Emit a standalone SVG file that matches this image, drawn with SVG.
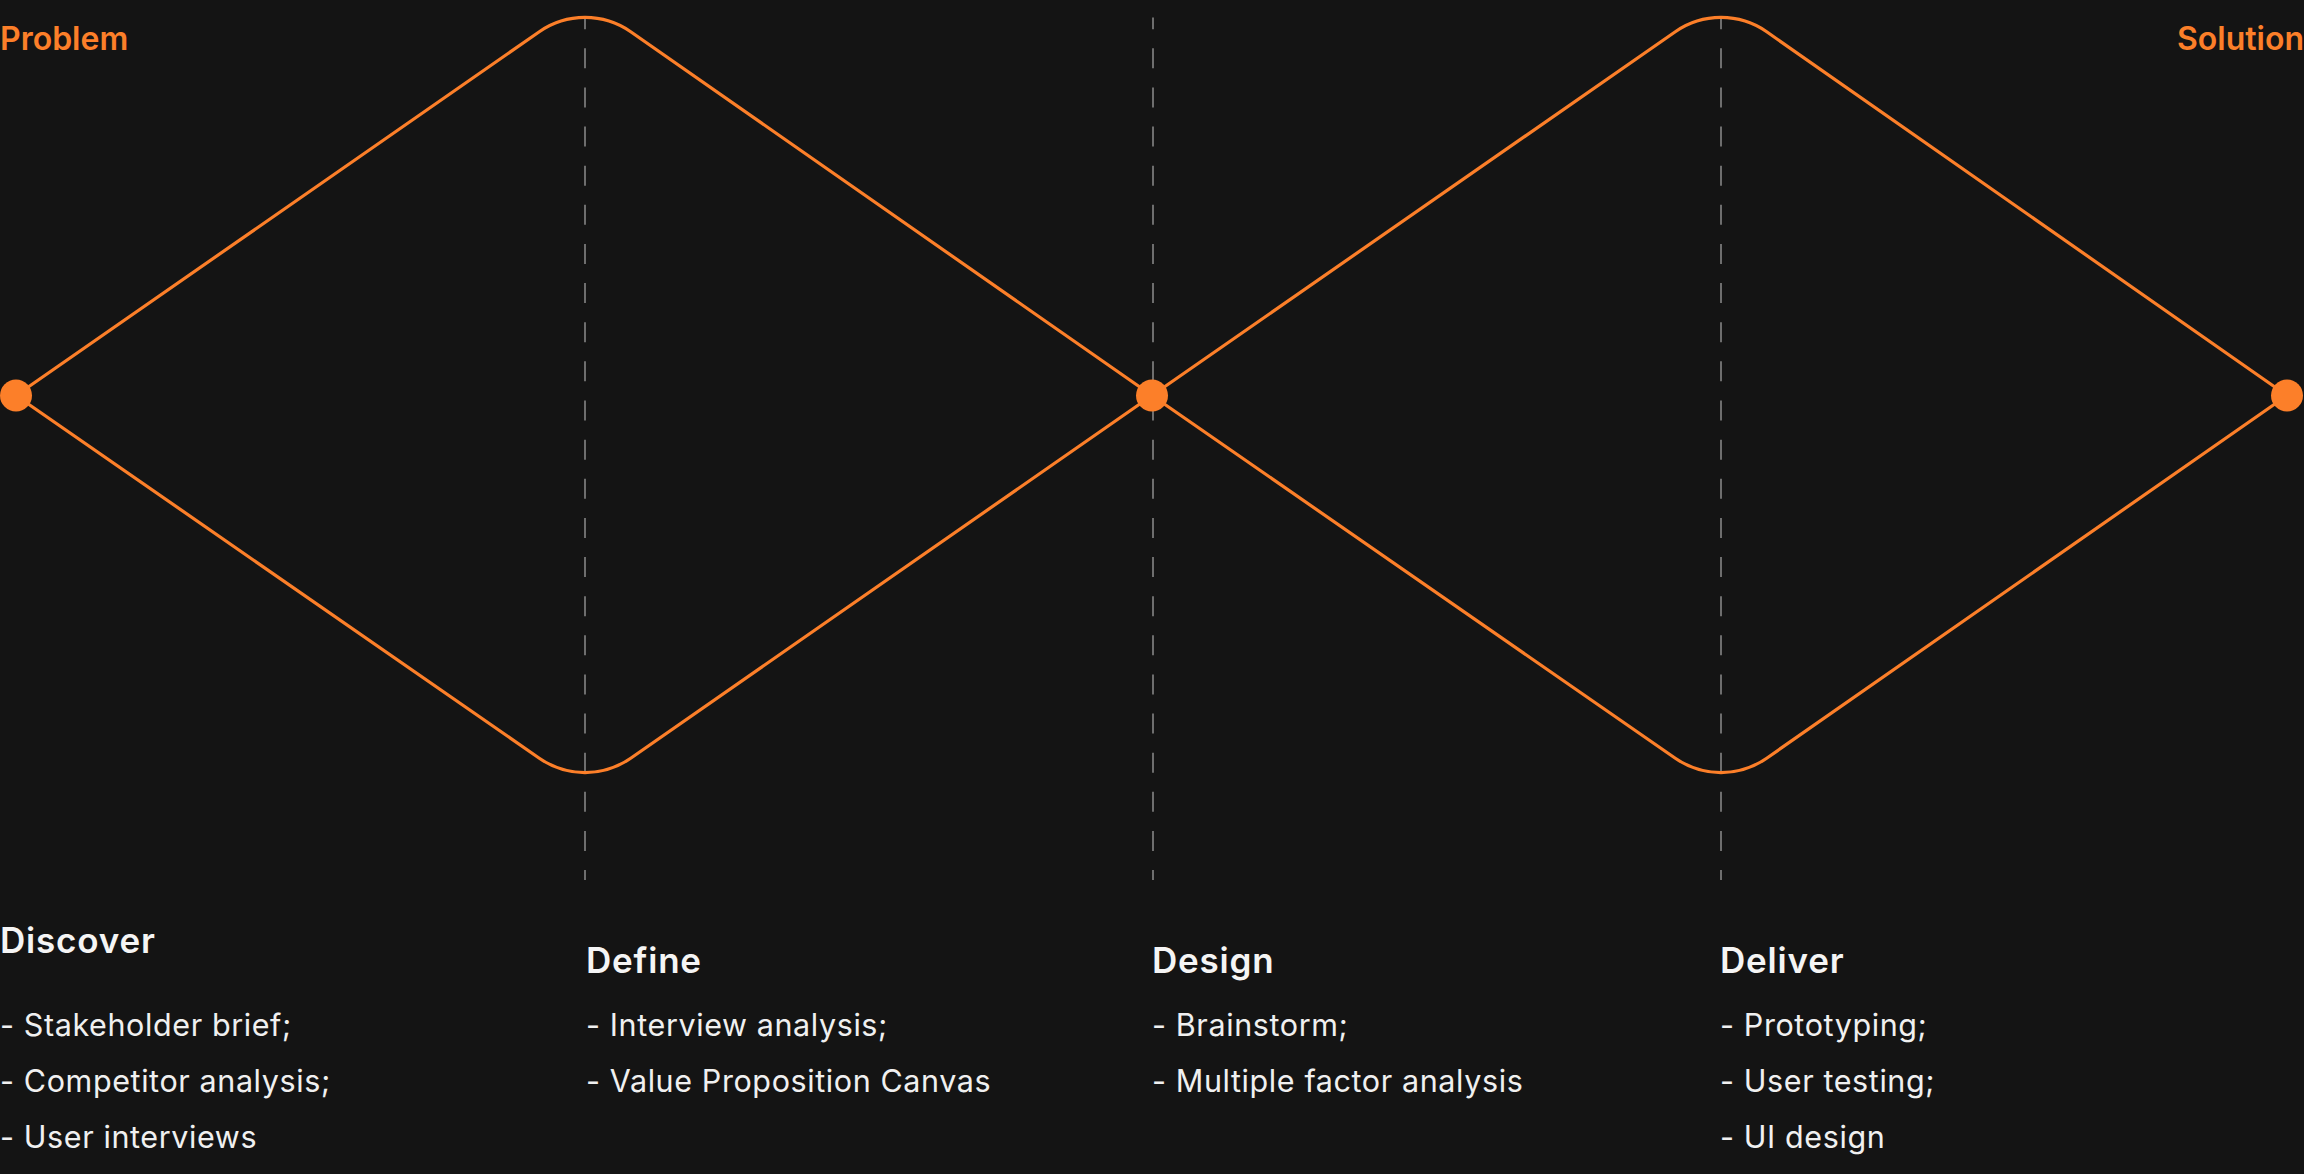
<svg xmlns="http://www.w3.org/2000/svg" width="2304" height="1174" viewBox="0 0 2304 1174">
  <style>
    .bg { fill: #141414; }
    .guide { stroke: #6e6e6e; stroke-width: 2; stroke-dasharray: 20 19.13; stroke-dashoffset: 8.3; fill: none; }
    .flow { stroke: #fc7f29; stroke-width: 3.2; fill: none; stroke-linejoin: round; }
    .dot { fill: #fc7f29; }
    .end { font-family: Inter, "Noto Sans", sans-serif; font-weight: 600; font-size: 32px; fill: #fc7f29; }
    .head { font-family: Inter, "Noto Sans", sans-serif; font-weight: 600; font-size: 35px; letter-spacing: 0.8px; fill: #f5f5f5; }
    .item { font-family: Inter, "Noto Sans", sans-serif; font-weight: 400; font-size: 30.5px; letter-spacing: 0.6px; fill: #f0f0f0; }
  </style>

  <rect class="bg" x="0" y="0" width="2304" height="1174"/>

  <!-- vertical dashed phase guides -->
  <g id="guides">
    <line class="guide" x1="585" y1="17.5" x2="585" y2="880"/>
    <line class="guide" x1="1153" y1="17.5" x2="1153" y2="880"/>
    <line class="guide" x1="1721" y1="17.5" x2="1721" y2="880"/>
  </g>

  <!-- diverge / converge curves of the double diamond -->
  <g id="connectors">
    <path class="flow" d="M16 395.5 L539.3 31.8 A80 80 0 0 1 630.7 31.8 L1152 395.5"/>
    <path class="flow" d="M16 395.5 L539.3 758.2 A80 80 0 0 0 630.7 758.2 L1152 395.5"/>
    <path class="flow" d="M1152 395.5 L1675.3 31.8 A80 80 0 0 1 1766.7 31.8 L2287 395.5"/>
    <path class="flow" d="M1152 395.5 L1675.3 758.2 A80 80 0 0 0 1766.7 758.2 L2287 395.5"/>
  </g>

  <g id="start">
    <circle class="dot" cx="16" cy="395.5" r="16"/>
  </g>
  <g id="midpoint">
    <circle class="dot" cx="1152" cy="395.5" r="16"/>
  </g>
  <g id="finish">
    <circle class="dot" cx="2287" cy="395.5" r="16"/>
  </g>

  <g id="problem">
    <text class="end" x="0" y="50">Problem</text>
  </g>
  <g id="solution">
    <text class="end" x="2304" y="50" text-anchor="end">Solution</text>
  </g>

  <g id="discover">
    <text class="head" x="0" y="953">Discover</text>
    <text class="item" x="0" y="1036">- Stakeholder brief;</text>
    <text class="item" x="0" y="1092">- Competitor analysis;</text>
    <text class="item" x="0" y="1148">- User interviews</text>
  </g>

  <g id="define">
    <text class="head" x="586" y="973">Define</text>
    <text class="item" x="586" y="1036">- Interview analysis;</text>
    <text class="item" x="586" y="1092">- Value Proposition Canvas</text>
  </g>

  <g id="design">
    <text class="head" x="1152" y="973">Design</text>
    <text class="item" x="1152" y="1036">- Brainstorm;</text>
    <text class="item" x="1152" y="1092">- Multiple factor analysis</text>
  </g>

  <g id="deliver">
    <text class="head" x="1720" y="973">Deliver</text>
    <text class="item" x="1720" y="1036">- Prototyping;</text>
    <text class="item" x="1720" y="1092">- User testing;</text>
    <text class="item" x="1720" y="1148">- UI design</text>
  </g>
</svg>
